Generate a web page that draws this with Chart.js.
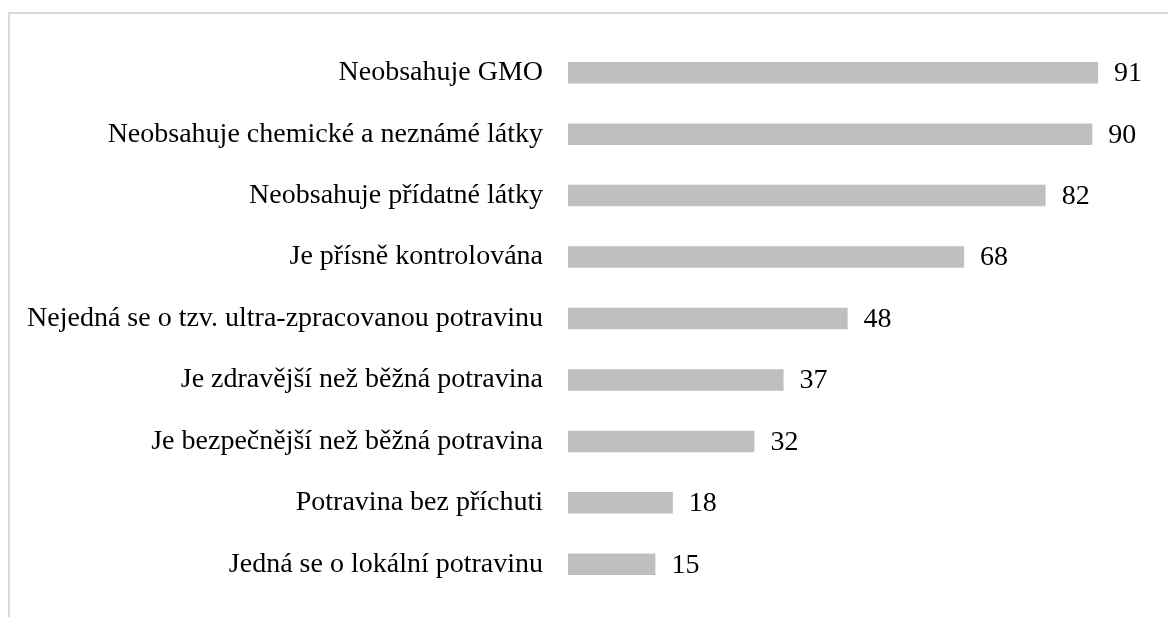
<!DOCTYPE html>
<html>
<head>
<meta charset="utf-8">
<script src="https://cdn.jsdelivr.net/npm/chart.js@4"></script>
<style>
    html, body { margin: 0; padding: 0; background: #fff; }
    #wrap { position: relative; width: 1168px; height: 617px; overflow: hidden; }
    #frame { position: absolute; left: 8px; top: 12px; width: 1300px; height: 800px;
             border: 2px solid #D9D9D9; box-sizing: border-box; }
    #chart { position: absolute; left: 0; top: 0; }
</style>
</head>
<body>
<div id="wrap">
    <div id="frame"></div>
    <canvas id="chart" width="1168" height="617"></canvas>
</div>
<script>
var labels = [
    'Neobsahuje GMO',
    'Neobsahuje chemické a neznámé látky',
    'Neobsahuje přídatné látky',
    'Je přísně kontrolována',
    'Nejedná se o tzv. ultra-zpracovanou potravinu',
    'Je zdravější než běžná potravina',
    'Je bezpečnější než běžná potravina',
    'Potravina bez příchuti',
    'Jedná se o lokální potravinu'
];
var values = [91, 90, 82, 68, 48, 37, 32, 18, 15];

var fontFamily = '"Liberation Serif", "Times New Roman", serif';
var fontSize = 28;

// Ecrit la valeur au bout de chaque barre
var valueLabels = {
    id: 'valueLabels',
    afterDatasetsDraw: function(chart) {
        var ctx = chart.ctx;
        var meta = chart.getDatasetMeta(0);
        ctx.save();
        ctx.font = fontSize + 'px ' + fontFamily;
        ctx.fillStyle = '#000';
        ctx.textAlign = 'left';
        ctx.textBaseline = 'middle';
        meta.data.forEach(function(bar, i) {
            ctx.fillText(values[i], bar.x + 16, bar.y + 1);
        });
        ctx.restore();
    }
};

function drawChart() {
    new Chart(document.getElementById('chart'), {
        type: 'bar',
        data: {
            labels: labels,
            datasets: [{
                data: values,
                backgroundColor: '#BFBFBF',
                borderWidth: 0,
                categoryPercentage: 1,
                barPercentage: 0.35
            }]
        },
        options: {
            indexAxis: 'y',
            responsive: false,
            animation: false,
            layout: { padding: { top: 42, bottom: 22, left: 0, right: 0 } },
            plugins: {
                legend: { display: false },
                tooltip: { enabled: false }
            },
            scales: {
                x: {
                    display: false,
                    min: 0,
                    max: 103
                },
                y: {
                    afterFit: function(scale) {
                        scale.width = 568;
                        scale.paddingTop = 0;
                        scale.paddingBottom = 0;
                    },
                    grid: { display: false },
                    border: { display: false },
                    ticks: {
                        color: '#000',
                        padding: 17,
                        font: { family: fontFamily, size: fontSize }
                    }
                }
            }
        },
        plugins: [valueLabels]
    });
}

// Attend que la police serif soit chargée avant de dessiner
document.fonts.load(fontSize + 'px "Liberation Serif"').then(drawChart, drawChart);
</script>
</body>
</html>
